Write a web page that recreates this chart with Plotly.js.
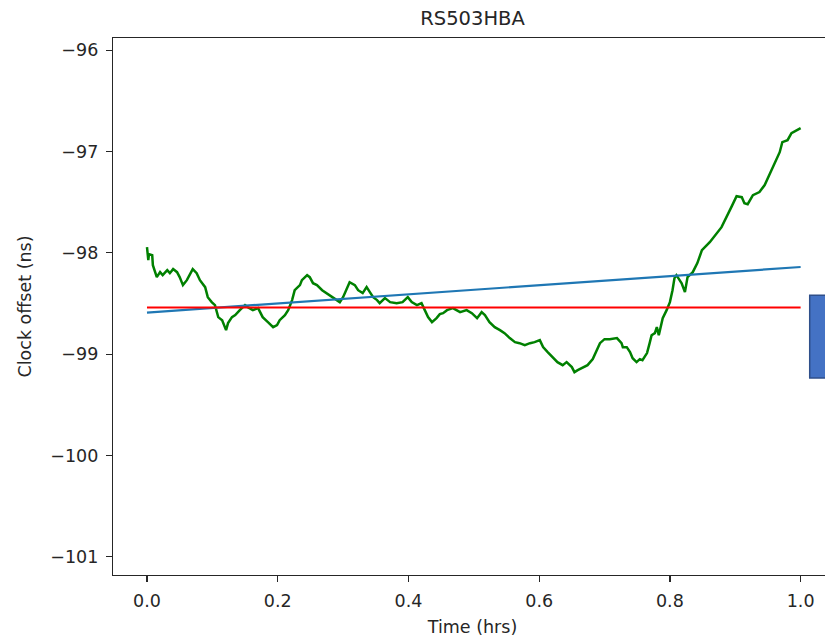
<!DOCTYPE html>
<html>
<head>
<meta charset="utf-8">
<script src="https://cdn.plot.ly/plotly-3.0.1.min.js"></script>
<style>
  html, body { margin: 0; padding: 0; overflow: hidden; background: #fff; }
  #chart { width: 840px; height: 638px; }
</style>
</head>
<body>
<div id="chart"></div>
<script>
// Measured clock offset of station RS503HBA over one hour
const timeHrs = [
  0.000, 0.002, 0.003, 0.008, 0.009, 0.015, 0.020, 0.024, 0.031, 0.035,
  0.040, 0.046, 0.050, 0.055, 0.061, 0.066, 0.070, 0.076, 0.081, 0.089,
  0.093, 0.099, 0.104, 0.109, 0.115, 0.121, 0.124, 0.130, 0.135, 0.142,
  0.150, 0.154, 0.162, 0.170, 0.177, 0.185, 0.193, 0.199, 0.203, 0.211,
  0.216, 0.222, 0.226, 0.234, 0.237, 0.245, 0.249, 0.254, 0.260, 0.268,
  0.275, 0.283, 0.291, 0.295, 0.300, 0.306, 0.310, 0.318, 0.323, 0.330,
  0.336, 0.341, 0.346, 0.352, 0.356, 0.364, 0.372, 0.382, 0.391, 0.399,
  0.405, 0.413, 0.420, 0.425, 0.430, 0.436, 0.443, 0.448, 0.453, 0.459,
  0.468, 0.479, 0.489, 0.497, 0.505, 0.512, 0.517, 0.524, 0.532, 0.540,
  0.547, 0.555, 0.563, 0.570, 0.578, 0.586, 0.593, 0.601, 0.606, 0.613,
  0.621, 0.628, 0.636, 0.642, 0.650, 0.654, 0.659, 0.667, 0.674, 0.682,
  0.688, 0.693, 0.700, 0.708, 0.719, 0.726, 0.728, 0.734, 0.739, 0.743,
  0.749, 0.754, 0.758, 0.765, 0.769, 0.772, 0.777, 0.780, 0.783, 0.787,
  0.789, 0.795, 0.800, 0.804, 0.807, 0.810, 0.818, 0.823, 0.827, 0.835,
  0.842, 0.849, 0.861, 0.879, 0.887, 0.894, 0.902, 0.910, 0.914, 0.919,
  0.927, 0.937, 0.945, 0.957, 0.968, 0.972, 0.980, 0.986, 1.000
];
const offsetNs = [
  -97.944, -98.072, -98.013, -98.023, -98.122, -98.240, -98.191, -98.221, -98.171, -98.201,
  -98.161, -98.191, -98.240, -98.319, -98.270, -98.201, -98.161, -98.201, -98.270, -98.339,
  -98.438, -98.487, -98.517, -98.635, -98.665, -98.763, -98.694, -98.635, -98.615, -98.566,
  -98.517, -98.536, -98.566, -98.546, -98.635, -98.684, -98.734, -98.714, -98.665, -98.615,
  -98.566, -98.467, -98.369, -98.319, -98.270, -98.221, -98.240, -98.300, -98.319, -98.369,
  -98.398, -98.438, -98.467, -98.487, -98.438, -98.339, -98.290, -98.319, -98.369, -98.398,
  -98.339, -98.388, -98.438, -98.467, -98.497, -98.447, -98.487, -98.497, -98.487, -98.438,
  -98.487, -98.517, -98.497, -98.566, -98.635, -98.684, -98.645, -98.605, -98.596, -98.566,
  -98.546, -98.586, -98.566, -98.596, -98.645, -98.586, -98.615, -98.684, -98.734, -98.763,
  -98.793, -98.842, -98.882, -98.892, -98.911, -98.892, -98.882, -98.862, -98.931, -98.980,
  -99.030, -99.079, -99.109, -99.079, -99.128, -99.178, -99.158, -99.128, -99.109, -99.049,
  -98.961, -98.892, -98.852, -98.852, -98.842, -98.892, -98.931, -98.931, -98.980, -99.040,
  -99.079, -99.049, -99.059, -98.990, -98.892, -98.813, -98.793, -98.734, -98.813, -98.694,
  -98.645, -98.566, -98.487, -98.369, -98.250, -98.221, -98.300, -98.388, -98.240, -98.191,
  -98.102, -97.974, -97.895, -97.747, -97.648, -97.549, -97.441, -97.451, -97.510, -97.520,
  -97.431, -97.401, -97.332, -97.155, -97.007, -96.908, -96.888, -96.819, -96.770
];

// Linear trend and mean level over the same interval
const fitTimes = [0.0, 1.0];
const fitOffsets = [-98.59, -98.14];
const meanTimes = [0.0, 1.0];
const meanOffsets = [-98.54, -98.54];

const yTicks = [-96, -97, -98, -99, -100, -101];
const xTicks = [0.0, 0.2, 0.4, 0.6, 0.8, 1.0];

const fontFamily = 'DejaVu Sans, sans-serif';
const ink = '#262626';

const traces = [
  {
    x: timeHrs, y: offsetNs, type: 'scatter', mode: 'lines',
    line: { color: '#008000', width: 2.5 }, name: 'offset'
  },
  {
    x: fitTimes, y: fitOffsets, type: 'scatter', mode: 'lines',
    line: { color: '#1f77b4', width: 2.2 }, name: 'fit'
  },
  {
    x: meanTimes, y: meanOffsets, type: 'scatter', mode: 'lines',
    line: { color: '#ff0000', width: 2 }, name: 'mean'
  }
];

const axisCommon = {
  showline: true, mirror: true, linecolor: ink, linewidth: 1.2,
  ticks: 'outside', ticklen: 6, tickcolor: ink, tickwidth: 1.2,
  ticklabelstandoff: 4,
  showgrid: false, zeroline: false,
  tickfont: { family: fontFamily, size: 17.5, color: ink }
};

const layout = {
  width: 840, height: 638,
  margin: { l: 113, r: 8, t: 38, b: 63 },
  paper_bgcolor: '#fff', plot_bgcolor: '#fff',
  showlegend: false,
  font: { family: fontFamily, color: ink },
  title: {
    text: 'RS503HBA', font: { family: fontFamily, size: 19.5, color: ink },
    x: 472.5 / 840, xref: 'container', xanchor: 'center',
    y: 1 - 18 / 638, yref: 'container', yanchor: 'middle'
  },
  xaxis: Object.assign({}, axisCommon, {
    range: [-0.052, 1.048],
    tickvals: xTicks, tickformat: '.1f',
    title: { text: 'Time (hrs)', font: { family: fontFamily, size: 17.5, color: ink }, standoff: 10 }
  }),
  yaxis: Object.assign({}, axisCommon, {
    range: [-101.18, -95.88],
    tickvals: yTicks,
    title: { text: 'Clock offset (ns)', font: { family: fontFamily, size: 17.5, color: ink }, standoff: 14 }
  }),
  shapes: [
    {
      type: 'rect', xref: 'paper', yref: 'paper',
      x0: 0.969, x1: 1.06, y0: 0.367, y1: 0.521,
      fillcolor: '#4472c4', line: { color: '#2f4f8a', width: 1.5 }, layer: 'above'
    }
  ]
};

Plotly.newPlot('chart', traces, layout, { displayModeBar: false, staticPlot: true });
</script>
</body>
</html>
